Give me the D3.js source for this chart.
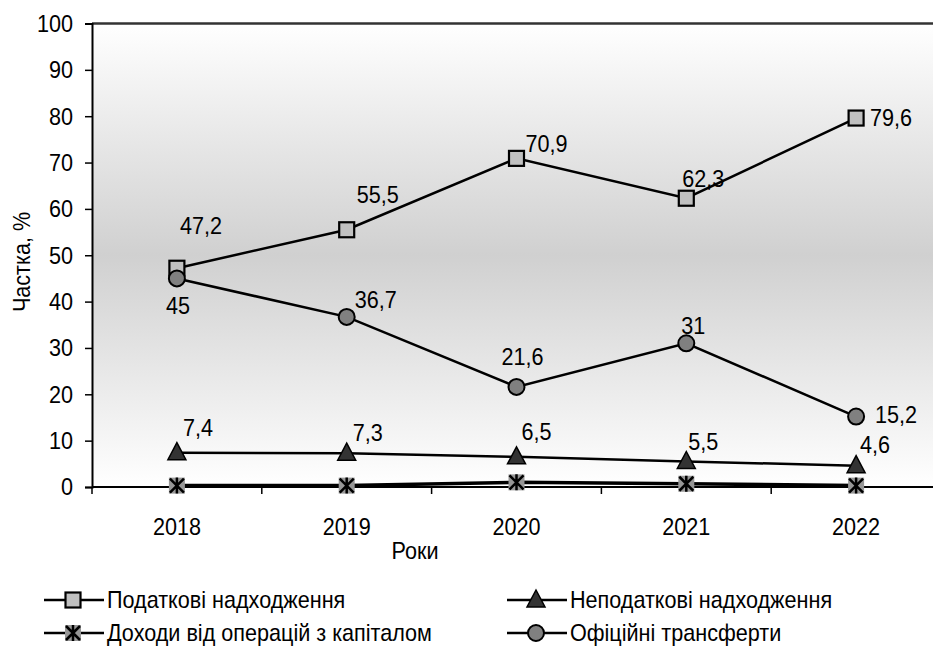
<!DOCTYPE html>
<html><head><meta charset="utf-8">
<script src="https://cdn.jsdelivr.net/npm/d3@7"></script>
<style>body{margin:0;background:#fff}svg{display:block}text{font-family:"Liberation Sans",Arial,sans-serif;fill:#000}</style>
</head><body>
<svg id="c" width="933" height="648"></svg>
<script>
const years = ["2018","2019","2020","2021","2022"];
const taxRevenue = [47.2,55.5,70.9,62.3,79.6];
const nonTaxRevenue = [7.4,7.3,6.5,5.5,4.6];
const capitalIncome = [0.3,0.3,1.0,0.7,0.3];
const officialTransfers = [45,36.7,21.6,31,15.2];
const yTicks = [0,10,20,30,40,50,60,70,80,90,100];
const seriesNames = ["Податкові надходження","Неподаткові надходження","Доходи від операцій з капіталом","Офіційні трансферти"];
const xTitle = "Роки";
const yTitle = "Частка, %";

// layout: label offsets (dx, dy) relative to points
const taxLabelOff = [[24,-43],[31,-35],[30,-15],[17,-20],[35,0]];
const nonTaxLabelOff = [[21,-25],[21,-21],[20,-25],[17,-20],[19,-21]];
const transferLabelOff = [[1,27],[29,-17],[6,-30],[7,-18],[40,-2]];

const SX = 0.9, FS = 24;
const svg = d3.select("#c");
const L = 92, T = 23.5, B = 487, R = 941;
const x = d3.scalePoint().domain(years).range([L, R]).padding(0.5);
const y = d3.scaleLinear().domain([0,100]).range([B, T]);

function txt(g, px, py, s, anchor, fs){
  return g.append("text").attr("transform", `translate(${px},${py}) scale(${SX},1)`)
    .attr("text-anchor", anchor||"middle").attr("dominant-baseline","central")
    .style("font-size",(fs||FS)+"px").text(s);
}

const defs = svg.append("defs");
const grad = defs.append("linearGradient").attr("id","bg").attr("x1",0).attr("y1",0).attr("x2",0).attr("y2",1);
grad.append("stop").attr("offset","0").attr("stop-color","#ffffff");
grad.append("stop").attr("offset","0.5").attr("stop-color","#d0d0d0");
grad.append("stop").attr("offset","1").attr("stop-color","#ffffff");

svg.append("rect").attr("x",L).attr("y",T).attr("width",R-L+20).attr("height",B-T).attr("fill","url(#bg)");
svg.append("line").attr("x1",L).attr("x2",933).attr("y1",T).attr("y2",T).attr("stroke","#333").attr("stroke-width",2.5);

// y axis
const ya = svg.append("g").attr("transform",`translate(${L},0)`)
  .call(d3.axisLeft(y).tickValues(yTicks).tickSize(7).tickFormat(d3.format("d")));
ya.select(".domain").attr("stroke","#000").attr("stroke-width",2);
ya.selectAll(".tick line").attr("stroke","#000").attr("stroke-width",1.5);
ya.selectAll(".tick text").remove();
yTicks.forEach(v => txt(svg, 73, y(v), String(v), "end"));

// x axis
const boundaries = d3.range(years.length+1).map(i => L + i*x.step());
svg.append("line").attr("x1",L).attr("x2",933).attr("y1",B).attr("y2",B).attr("stroke","#000").attr("stroke-width",2);
boundaries.forEach(bx => svg.append("line").attr("x1",bx).attr("x2",bx).attr("y1",B).attr("y2",B+7).attr("stroke","#000").attr("stroke-width",1.5));
years.forEach(yr => txt(svg, x(yr), 527, yr, "middle"));

txt(svg, 415, 551, xTitle, "middle");
svg.append("text").attr("transform",`translate(22,262) rotate(-90) scale(${SX},1)`)
  .attr("text-anchor","middle").attr("dominant-baseline","central").style("font-size",FS+"px").text(yTitle);

const line = d3.line().x((d,i)=>x(years[i])).y(d=>y(d));
function drawLine(vals, w){
  svg.append("path").datum(vals).attr("d",line).attr("fill","none").attr("stroke","#000").attr("stroke-width",w);
}

function marker(g, type, cx, cy){
  if(type==="square"){
    g.append("rect").attr("x",cx-7.5).attr("y",cy-7.5).attr("width",15).attr("height",15).attr("fill","#c0c0c0").attr("stroke","#000").attr("stroke-width",2.2);
  } else if(type==="triangle"){
    g.append("path").attr("d",`M${cx},${cy-10}L${cx+9},${cy+7}L${cx-9},${cy+7}Z`).attr("fill","#333").attr("stroke","#000").attr("stroke-width",1.5);
  } else if(type==="circle"){
    g.append("circle").attr("cx",cx).attr("cy",cy).attr("r",8).attr("fill","#808080").attr("stroke","#000").attr("stroke-width",2);
  } else if(type==="star"){
    g.append("rect").attr("x",cx-8).attr("y",cy-8).attr("width",16).attr("height",16).attr("fill","#969696");
    g.append("path").attr("d",`M${cx-7},${cy-7}L${cx+7},${cy+7}M${cx+7},${cy-7}L${cx-7},${cy+7}M${cx},${cy-8}L${cx},${cy+8}`).attr("stroke","#000").attr("stroke-width",2.5);
  }
}

drawLine(capitalIncome, 3.5);
drawLine(nonTaxRevenue, 2.5);
drawLine(officialTransfers, 2.5);
drawLine(taxRevenue, 2.5);

const mg = svg.append("g");
capitalIncome.forEach((v,i)=>marker(mg,"star",x(years[i]),y(v)));
nonTaxRevenue.forEach((v,i)=>marker(mg,"triangle",x(years[i]),y(v)));
taxRevenue.forEach((v,i)=>marker(mg,"square",x(years[i]),y(v)));
officialTransfers.forEach((v,i)=>marker(mg,"circle",x(years[i]),y(v)));

const fmt = v => String(v).replace(".",",");
function labels(vals, offs){
  vals.forEach((v,i)=> txt(svg, x(years[i])+offs[i][0], y(v)+offs[i][1], fmt(v), "middle"));
}
labels(taxRevenue, taxLabelOff);
labels(nonTaxRevenue, nonTaxLabelOff);
labels(officialTransfers, transferLabelOff);

// legend
const legendItems = [
  {name: seriesNames[0], type:"square", lx:44, ly:600},
  {name: seriesNames[1], type:"triangle", lx:507, ly:600},
  {name: seriesNames[2], type:"star", lx:44, ly:633},
  {name: seriesNames[3], type:"circle", lx:507, ly:633}
];
legendItems.forEach(it=>{
  const g = svg.append("g");
  g.append("line").attr("x1",it.lx).attr("x2",it.lx+60).attr("y1",it.ly).attr("y2",it.ly).attr("stroke","#000").attr("stroke-width",2.5);
  marker(g, it.type, it.lx+29, it.ly);
  txt(g, it.lx+63, it.ly, it.name, "start");
});
</script>
</body></html>
